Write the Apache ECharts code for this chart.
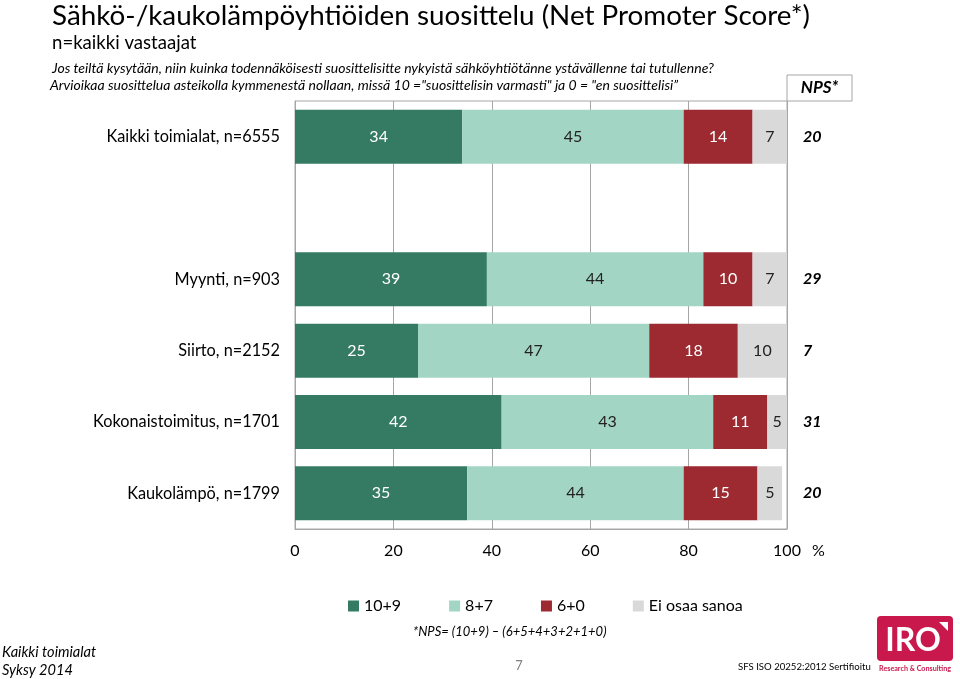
<!DOCTYPE html>
<html>
<head>
<meta charset="utf-8">
<script src="https://cdn.jsdelivr.net/npm/echarts@6/dist/echarts.min.js"></script>
<style>
html,body{margin:0;padding:0;background:#fff;}
#main{width:960px;height:679px;}
</style>
</head>
<body>
<div id="main"></div>
<script>
// ---- data ----
const categories = ['Kaikki toimialat, n=6555', '', 'Myynti, n=903', 'Siirto, n=2152', 'Kokonaistoimitus, n=1701', 'Kaukolämpö, n=1799'];
const seriesNames = ['10+9', '8+7', '6+0', 'Ei osaa sanoa'];
const promoters = [34, '-', 39, 25, 42, 35];
const passives = [45, '-', 44, 47, 43, 44];
const detractors = [14, '-', 10, 18, 11, 15];
const dontKnow = [7, '-', 7, 10, 5, 5];
const npsValues = ['20', '', '29', '7', '31', '20'];
const xTicks = [0, 20, 40, 60, 80, 100];

const FONT = 'Lato, "Open Sans", sans-serif';
const colors = ['#357B63', '#A3D5C5', '#9C2A30', '#D9D9D9'];
const labelColors = ['#ffffff', '#222222', '#ffffff', '#222222'];
const values = [promoters, passives, detractors, dontKnow];

const chart = echarts.init(document.getElementById('main'));

const series = seriesNames.map((name, i) => ({
  name: name,
  type: 'bar',
  stack: 'all',
  data: values[i],
  barWidth: 54,
  itemStyle: { color: colors[i] },
  clip: true,
  label: {
    show: true,
    position: 'inside',
    fontFamily: FONT,
    fontSize: 16,
    color: labelColors[i]
  }
}));

const option = {
  backgroundColor: '#ffffff',
  animation: false,
  textStyle: { fontFamily: FONT },
  grid: {
    left: 295, right: 173, top: 101, bottom: 150,
    show: true, borderColor: '#A6A6A6', borderWidth: 1
  },
  legend: {
    data: seriesNames,
    left: 348, top: 598, padding: 0,
    itemWidth: 11, itemHeight: 11, itemGap: 48,
    icon: 'rect',
    textStyle: { fontFamily: FONT, fontSize: 16, color: '#000' }
  },
  xAxis: {
    type: 'value',
    min: 0, max: 100, interval: 20,
    axisLine: { show: true, lineStyle: { color: '#A6A6A6' } },
    axisTick: { show: false },
    splitLine: { show: true, lineStyle: { color: '#A6A6A6' } },
    axisLabel: {
      fontFamily: FONT, fontSize: 16, color: '#000', margin: 14,
      formatter: v => (xTicks.indexOf(v) >= 0 ? String(v) : '')
    }
  },
  yAxis: [{
    type: 'category',
    data: categories,
    inverse: true,
    axisLine: { show: true, lineStyle: { color: '#A6A6A6' } },
    axisTick: { show: false },
    axisLabel: { fontFamily: FONT, fontSize: 16.3, color: '#000', margin: 15 }
  }, {
    type: 'category',
    data: categories,
    inverse: true,
    position: 'right',
    axisLine: { show: false },
    axisTick: { show: false },
    axisLabel: {
      fontFamily: FONT, fontSize: 16, color: '#000', margin: 16,
      fontStyle: 'italic', fontWeight: 'bold',
      formatter: (v, idx) => npsValues[idx]
    }
  }],
  series: series,
  graphic: [
    { type: 'text', left: 52, top: 2, style: { text: 'Sähkö-/kaukolämpöyhtiöiden suosittelu (Net Promoter Score*)', font: '27.8px ' + FONT, fill: '#000' } },
    { type: 'text', left: 52, top: 33, style: { text: 'n=kaikki vastaajat', font: '18.6px ' + FONT, fill: '#000' } },
    { type: 'text', left: 52, top: 61, style: { text: 'Jos teiltä kysytään, niin kuinka todennäköisesti suosittelisitte nykyistä sähköyhtiötänne ystävällenne tai tutullenne?', font: 'italic 14px ' + FONT, fill: '#000' } },
    { type: 'text', left: 50, top: 78, style: { text: 'Arvioikaa suosittelua asteikolla kymmenestä nollaan, missä 10 ="suosittelisin varmasti" ja 0 = "en suosittelisi”', font: 'italic 14px ' + FONT, fill: '#000' } },
    { type: 'rect', shape: { x: 787, y: 75, width: 65, height: 26 }, style: { fill: 'none', stroke: '#A6A6A6', lineWidth: 1 } },
    { type: 'text', x: 819.5, y: 88, style: { text: 'NPS*', font: 'italic bold 17px ' + FONT, fill: '#000', textAlign: 'center', textVerticalAlign: 'middle' } },
    { type: 'text', x: 812, y: 551, style: { text: '%', font: '16px ' + FONT, fill: '#000', textAlign: 'left', textVerticalAlign: 'middle' } },
    { type: 'text', x: 413, y: 632, style: { text: '*NPS= (10+9) – (6+5+4+3+2+1+0)', font: 'italic 13px ' + FONT, fill: '#000', textVerticalAlign: 'middle' } },
    { type: 'text', x: 2, y: 652, style: { text: 'Kaikki toimialat', font: 'italic 14.6px ' + FONT, fill: '#000', textVerticalAlign: 'middle' } },
    { type: 'text', x: 2, y: 670, style: { text: 'Syksy 2014', font: 'italic 14.6px ' + FONT, fill: '#000', textVerticalAlign: 'middle' } },
    { type: 'text', x: 519, y: 666, style: { text: '7', font: '13px ' + FONT, fill: '#808080', textAlign: 'center', textVerticalAlign: 'middle' } },
    { type: 'text', x: 738, y: 667, style: { text: 'SFS ISO 20252:2012 Sertifioitu', font: '9.6px ' + FONT, fill: '#000', textVerticalAlign: 'middle' } },
    { type: 'rect', shape: { x: 877, y: 616, width: 76, height: 45, r: 4 }, style: { fill: '#C8184C' } },
    { type: 'polygon', shape: { points: [[939, 622], [948, 622], [948, 631]] }, style: { fill: '#ffffff' } },
    { type: 'text', x: 913, y: 641, style: { text: 'IRO', font: 'bold 32px ' + FONT, fill: '#ffffff', textAlign: 'center', textVerticalAlign: 'middle' } },
    { type: 'text', x: 915, y: 669, style: { text: 'Research & Consulting', font: 'bold 7.2px ' + FONT, fill: '#C8184C', textAlign: 'center', textVerticalAlign: 'middle' } }
  ]
};
chart.setOption(option);
</script>
</body>
</html>
